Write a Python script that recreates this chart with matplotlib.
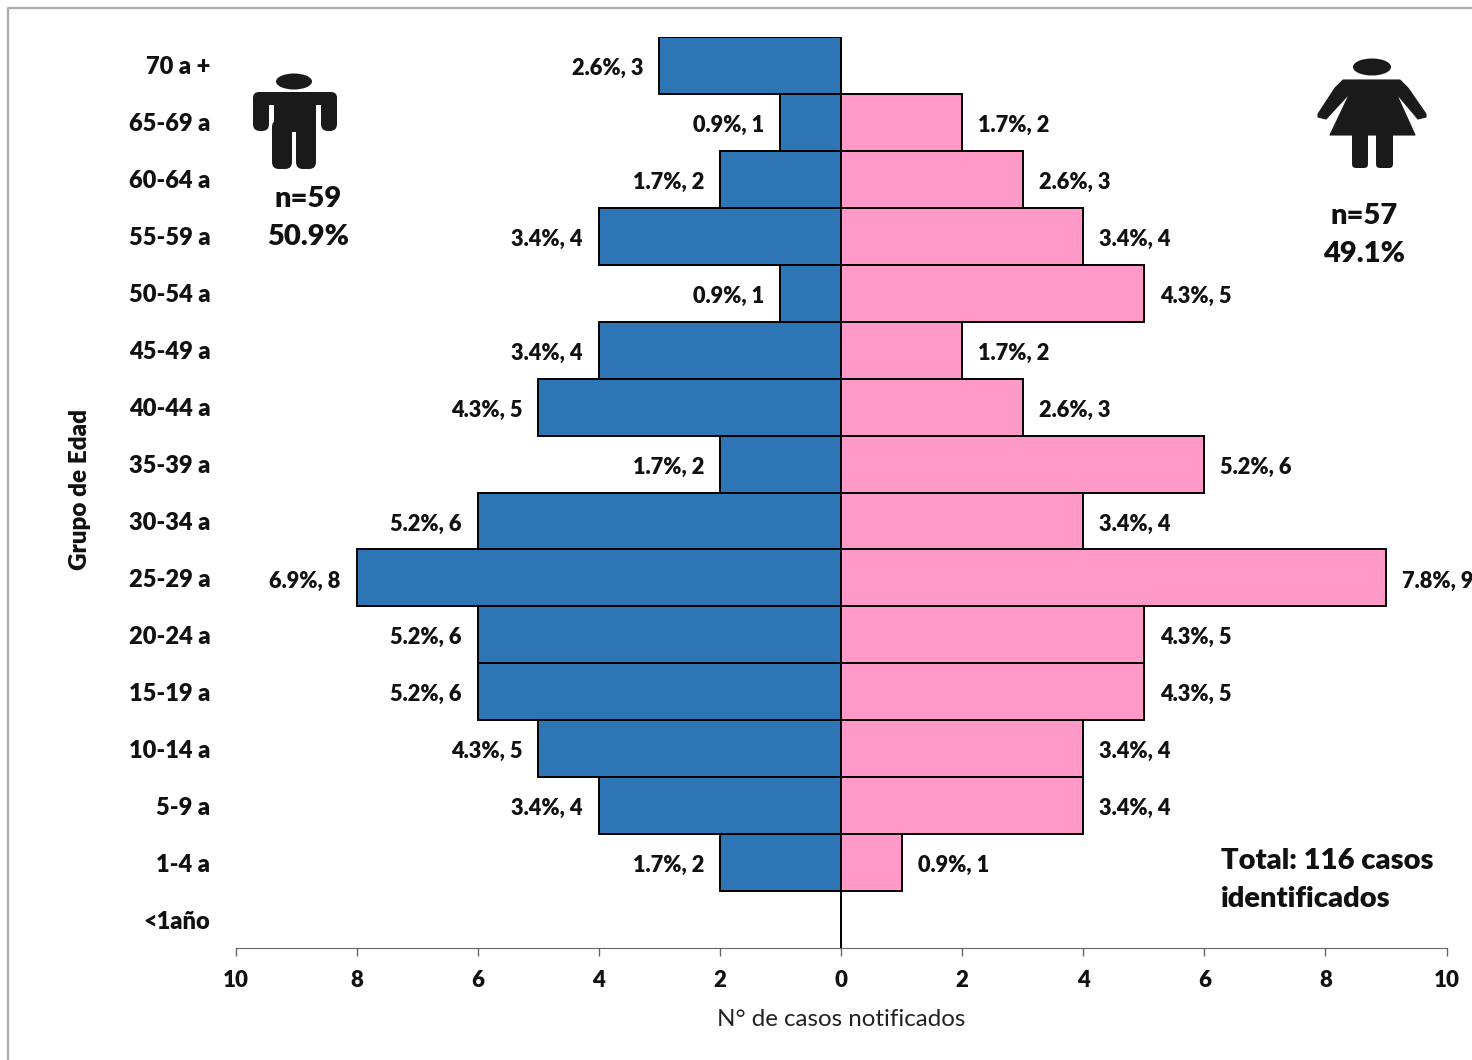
import matplotlib
matplotlib.use("Agg")
import matplotlib.pyplot as plt
from matplotlib.patches import Ellipse, Polygon, FancyBboxPatch, Rectangle

plt.rcParams['font.family'] = ['Lato', 'DejaVu Sans']

# Data, top row first
grupos = ['70 a +', '65-69 a', '60-64 a', '55-59 a', '50-54 a', '45-49 a', '40-44 a', '35-39 a',
          '30-34 a', '25-29 a', '20-24 a', '15-19 a', '10-14 a', '5-9 a', '1-4 a', '<1año']
hombres = [3, 1, 2, 4, 1, 4, 5, 2, 6, 8, 6, 6, 5, 4, 2, 0]
mujeres = [0, 2, 3, 4, 5, 2, 3, 6, 4, 9, 5, 5, 4, 4, 1, 0]
pct_hombres = ['2.6%', '0.9%', '1.7%', '3.4%', '0.9%', '3.4%', '4.3%', '1.7%',
               '5.2%', '6.9%', '5.2%', '5.2%', '4.3%', '3.4%', '1.7%', '']
pct_mujeres = ['', '1.7%', '2.6%', '3.4%', '4.3%', '1.7%', '2.6%', '5.2%',
               '3.4%', '7.8%', '4.3%', '4.3%', '3.4%', '3.4%', '0.9%', '']
x_ticks = [-10, -8, -6, -4, -2, 0, 2, 4, 6, 8, 10]

W, H = 1472, 1060
fig = plt.figure(figsize=(W / 100, H / 100), dpi=100)
ax = fig.add_axes([235.5 / W, 1 - 948 / H, (1447 - 236) / W, (948 - 37) / H])

pos = list(range(len(grupos)))
ax.barh(pos, [-v for v in hombres], height=1.0, color='#2E75B6', edgecolor='black', linewidth=1.4)
ax.barh(pos, mujeres, height=1.0, color='#FF99C8', edgecolor='black', linewidth=1.4)

ax.set_xlim(-10, 10)
ax.set_ylim(len(grupos) - 0.5, -0.5)

ax.set_yticks(pos)
ax.set_yticklabels(grupos, fontsize=17, fontweight=800, color='#111111')
ax.tick_params(axis='y', length=0, pad=18)
ax.set_xticks(x_ticks)
ax.set_xticklabels([str(abs(t)) for t in x_ticks], fontsize=16, fontweight=800, color='#111111')
ax.tick_params(axis='x', length=6, width=1, color='#666666', pad=10)

for side in ['top', 'left', 'right']:
    ax.spines[side].set_visible(False)
ax.spines['bottom'].set_color('#666666')
ax.axvline(0, color='#555555', linewidth=0.6, zorder=0)

# Data labels
for i in pos:
    if hombres[i]:
        ax.annotate(f'{pct_hombres[i]}, {hombres[i]}', (-hombres[i], i), xytext=(-11.5, -2.2),
                    textcoords='offset points', ha='right', va='center',
                    fontsize=15.7, fontweight=800, color='#111111')
    if mujeres[i]:
        ax.annotate(f'{pct_mujeres[i]}, {mujeres[i]}', (mujeres[i], i), xytext=(11.5, -2.2),
                    textcoords='offset points', ha='left', va='center',
                    fontsize=15.7, fontweight=800, color='#111111')

# Overlay in pixel coordinates for frame, captions and the two icons
ov = fig.add_axes([0, 0, 1, 1], facecolor='none')
ov.set_xlim(0, W)
ov.set_ylim(H, 0)
ov.axis('off')

ov.plot([8, 8, W], [H, 8, 8], color='#ABABAB', linewidth=1.6)

ov.text(80, 489, 'Grupo de Edad', rotation=90, ha='center', va='center',
        fontsize=17.5, fontweight=800, color='#111111')
ov.text(841, 1020, 'N° de casos notificados', ha='center', va='center', fontsize=17.4, color='#222222')

ov.text(308, 199, 'n=59', ha='center', va='center', fontsize=21, fontweight=800, color='#111111')
ov.text(308, 237, '50.9%', ha='center', va='center', fontsize=21, fontweight=800, color='#111111')
ov.text(1364, 216, 'n=57', ha='center', va='center', fontsize=21, fontweight=800, color='#111111')
ov.text(1364, 254, '49.1%', ha='center', va='center', fontsize=21, fontweight=800, color='#111111')
ov.text(1221, 861, 'Total: 116 casos', ha='left', va='center', fontsize=21, fontweight=800, color='#111111')
ov.text(1221, 899, 'identificados', ha='left', va='center', fontsize=21, fontweight=800, color='#111111')

ICON = '#1A1A1A'


def rounded(x0, y0, x1, y1, r):
    return FancyBboxPatch((x0 + r, y0 + r), x1 - x0 - 2 * r, y1 - y0 - 2 * r,
                          boxstyle=f'round,pad={r}', facecolor=ICON, edgecolor='none')


# Man icon
ov.add_patch(Ellipse((294, 81.5), 36, 16, color=ICON, lw=0))
ov.add_patch(rounded(253, 92, 337, 105, 6))
ov.add_patch(rounded(253, 94, 269, 131, 7))
ov.add_patch(rounded(321, 94, 337, 131, 7))
ov.add_patch(Rectangle((274, 96), 42, 36, color=ICON, lw=0))
ov.add_patch(rounded(272, 120, 292, 169, 7))
ov.add_patch(rounded(296, 120, 316, 169, 7))

# Woman icon
ov.add_patch(Ellipse((1372, 67), 38, 17, color=ICON, lw=0))
ov.add_patch(Polygon([(1343, 80), (1400, 80), (1408, 88), (1426, 114), (1426, 117), (1418, 119),
                      (1396, 93), (1415, 135), (1330, 135), (1350, 93), (1326, 119), (1318, 117),
                      (1318, 114), (1335, 88)],
                     closed=True, facecolor=ICON, edgecolor=ICON, linewidth=0.8, joinstyle='round'))
ov.add_patch(rounded(1352, 130, 1368, 168, 4))
ov.add_patch(rounded(1376, 130, 1393, 168, 4))

fig.savefig('out.png', dpi=100)
